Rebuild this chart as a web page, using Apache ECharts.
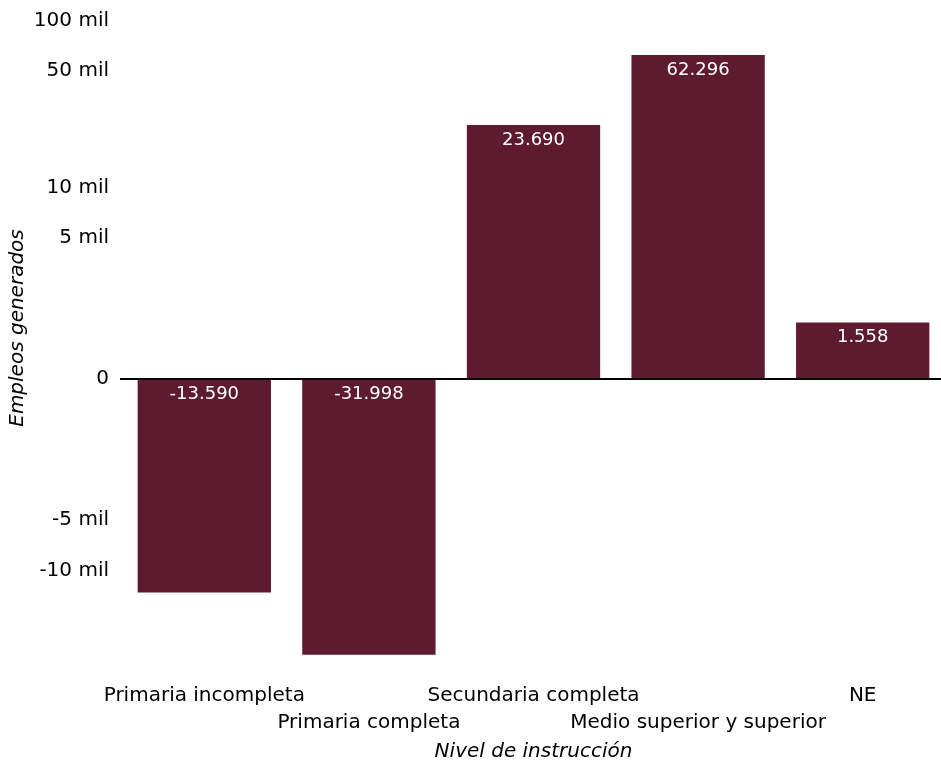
<!DOCTYPE html>
<html>
<head>
<meta charset="utf-8">
<script src="https://cdn.jsdelivr.net/npm/echarts@6/dist/echarts.min.js"></script>
<style>html,body{margin:0;padding:0;background:#fff}#c{width:941px;height:761px}</style>
</head>
<body>
<div id="c"></div>
<script>
const categories = ['Primaria incompleta', 'Primaria completa', 'Secundaria completa', 'Medio superior y superior', 'NE'];
const values = [-13590, -31998, 23690, 62296, 1558];
const tickValues = [-10000, -5000, 0, 5000, 10000, 50000, 100000];
const tickLabels = ['-10 mil', '-5 mil', '0', '5 mil', '10 mil', '50 mil', '100 mil'];

// symmetric log transform (log beyond constant C)
const C = 715;
function tr(x) {
  const a = Math.abs(x);
  if (a <= C) return 0 * x;
  return Math.sign(x) * Math.log10(a / C);
}
function fmt(v) {
  const s = String(Math.abs(v)).replace(/\B(?=(\d{3})+(?!\d))/g, '.');
  return (v < 0 ? '-' : '') + s;
}
const tickT = tickValues.map(tr);
const FONT = '"DejaVu Sans", sans-serif';

const chart = echarts.init(document.getElementById('c'), null, {renderer: 'canvas'});
chart.setOption({
  animation: false,
  backgroundColor: '#fff',
  grid: {left: 122, width: 823, top: 10, height: 660, outerBoundsMode: 'none', containLabel: false},
  xAxis: {
    type: 'category',
    data: categories,
    axisLine: {show: false, onZero: false},
    axisTick: {show: false},
    axisLabel: {
      interval: 0, hideOverlap: false, margin: 12,
      fontFamily: FONT, fontSize: 20, color: '#000', lineHeight: 27,
      formatter: (v, i) => (i % 2 === 1 ? '\n' + v : v)
    },
    name: 'Nivel de instrucción',
    nameLocation: 'middle', nameGap: 72,
    nameTextStyle: {fontFamily: FONT, fontSize: 20, fontStyle: 'italic', color: '#000'}
  },
  yAxis: {
    type: 'value',
    min: -291 / 167, max: 369 / 167,
    axisLine: {show: false},
    axisTick: {show: false},
    splitLine: {show: false},
    axisLabel: {
      customValues: tickT,
      margin: 13, fontFamily: FONT, fontSize: 20, color: '#000',
      padding: [2, 0, 0, 0],
      formatter: (v) => {
        let best = 0, d = Infinity;
        tickT.forEach((t, i) => { if (Math.abs(t - v) < d) { d = Math.abs(t - v); best = i; } });
        return tickLabels[best];
      }
    }
  },
  graphic: [{
    type: 'text', x: 18, y: 328, rotation: Math.PI / 2,
    style: {text: 'Empleos generados', font: 'italic 20px ' + FONT, fill: '#000', align: 'center', verticalAlign: 'middle'}
  }, {
    type: 'line', silent: true,
    shape: {x1: 120, y1: 379, x2: 941, y2: 379},
    style: {stroke: '#000', lineWidth: 2}
  }],
  series: [{
    type: 'bar',
    data: values.map(tr),
    barCategoryGap: '19%',
    itemStyle: {color: '#5E1A2F'},
    label: {
      show: true, position: 'insideTop', distance: 6,
      fontFamily: FONT, fontSize: 18, color: '#fff',
      formatter: (p) => fmt(values[p.dataIndex])
    },
    markLine: {
      silent: true, symbol: ['none', 'none'],
      label: {show: false},
      lineStyle: {color: '#000', width: 2, type: 'solid'},
      data: [{yAxis: 0}]
    }
  }]
});
</script>
</body>
</html>
